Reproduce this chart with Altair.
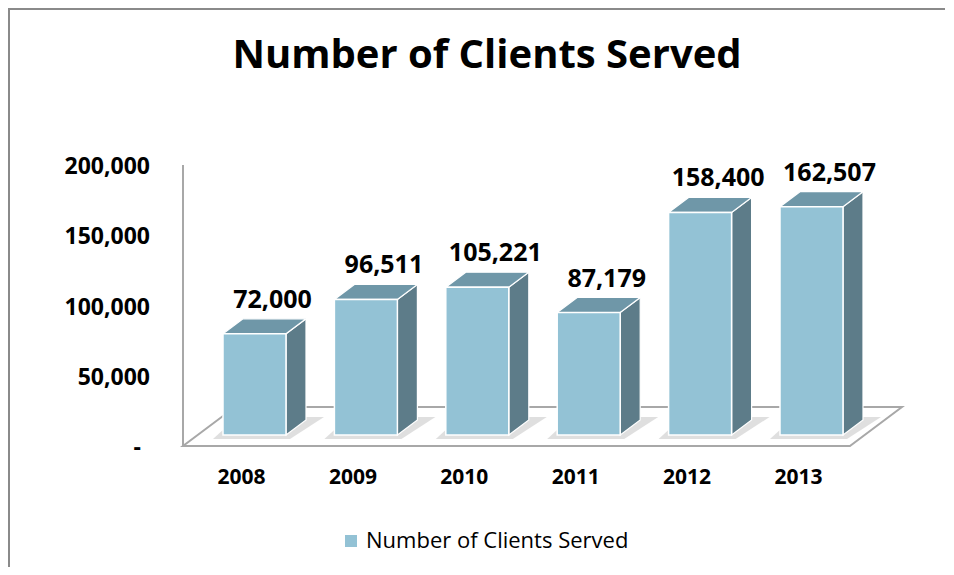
import altair as alt
import pandas as pd

# ---------------- data ----------------
years = ["2008", "2009", "2010", "2011", "2012", "2013"]
clients = [72000, 96511, 105221, 87179, 158400, 162507]
value_labels = ["72,000", "96,511", "105,221", "87,179", "158,400", "162,507"]
tick_values = [0, 50000, 100000, 150000, 200000]
tick_labels = ["-", "50,000", "100,000", "150,000", "200,000"]
chart_title = "Number of Clients Served"
legend_label = "Number of Clients Served"

# ---------------- geometry (scale units) ----------------
W, H = 938, 559
PX_X = 111.4            # px per category slot
PX_Y = 1.405 / 1000     # px per client
X_DOM = [-246.5 / PX_X, (W - 246.5) / PX_X]
Y_DOM = [-132 / PX_Y, (H - 132) / PX_Y]
HALF = 31.5 / PX_X      # half bar width
DX = 20 / PX_X          # depth in x
DY = 15 / PX_Y          # depth in y

FRONT = "#93C2D5"
TOP = "#6F97A8"
SIDE = "#5D7C89"
INK = "#000000"
FONT = "Open Sans"

xs = alt.Scale(domain=X_DOM, nice=False, zero=False)
ys = alt.Scale(domain=Y_DOM, nice=False, zero=False)

idx = list(range(len(years)))
bars = pd.DataFrame({"i": idx, "year": years, "v": clients, "label": value_labels})
bars["xl"] = bars["i"] - HALF
bars["xr"] = bars["i"] + HALF
bars["zero"] = 0.0

side_rows, top_rows, shadow_rows = [], [], []
for i, v in zip(idx, clients):
    side_rows.append({"i": i, "x": i + HALF, "lo": 0.0, "hi": v})
    side_rows.append({"i": i, "x": i + HALF + DX, "lo": DY, "hi": v + DY})
    top_rows.append({"i": i, "y": v, "a": i - HALF, "b": i + HALF})
    top_rows.append({"i": i, "y": v + DY, "a": i - HALF + DX, "b": i + HALF + DX})
    shadow_rows.append({"i": i, "y": -4 / PX_Y, "a": i - HALF - 10 / PX_X, "b": i + HALF + 4 / PX_X})
    shadow_rows.append({"i": i, "y": DY + 3 / PX_Y, "a": i - HALF + DX - 6 / PX_X, "b": i + HALF + DX + 18 / PX_X})
side = pd.DataFrame(side_rows)
top = pd.DataFrame(top_rows)
shadow = pd.DataFrame(shadow_rows)

floor = pd.DataFrame({
    "y": [-11 / PX_Y, 28 / PX_Y],
    "a": [-71.5 / PX_X, -19.5 / PX_X],
    "b": [5.345, 5.812],
})
axis_line = pd.DataFrame({"x": [-71.5 / PX_X], "y": [-11 / PX_Y], "y2": [270 / PX_Y]})

# outer chart frame (left and top edges only)
frame_left = pd.DataFrame({
    "x": [X_DOM[0], X_DOM[0] + 2 / PX_X],
    "lo": [Y_DOM[0], Y_DOM[0]],
    "hi": [Y_DOM[1], Y_DOM[1]],
})
frame_top = pd.DataFrame({
    "x": [X_DOM[0], X_DOM[1] - 1 / PX_X],
    "lo": [Y_DOM[1] - 2 / PX_Y, Y_DOM[1] - 2 / PX_Y],
    "hi": [Y_DOM[1], Y_DOM[1]],
})

ticks = pd.DataFrame({"v": tick_values, "label": tick_labels})
ticks["ly"] = ticks["v"] - 13 / PX_Y

yl = pd.DataFrame({"i": idx, "year": years})
yl["lx"] = yl["i"] - 13 / PX_X
yl["ly"] = -43 / PX_Y

# ---------------- layers ----------------
border_left = alt.Chart(frame_left).mark_area(orient="vertical", color="#8A8A8A").encode(
    x=alt.X("x:Q", scale=xs, axis=None),
    y=alt.Y("lo:Q", scale=ys, axis=None),
    y2="hi:Q",
)
border_top = alt.Chart(frame_top).mark_area(orient="vertical", color="#8A8A8A").encode(
    x=alt.X("x:Q", scale=xs, axis=None),
    y=alt.Y("lo:Q", scale=ys, axis=None),
    y2="hi:Q",
)

floor_layer = alt.Chart(floor).mark_area(
    orient="horizontal", fill="white", stroke="#A8A8A8", strokeWidth=2
).encode(
    y=alt.Y("y:Q", scale=ys, axis=None),
    x=alt.X("a:Q", scale=xs, axis=None),
    x2="b:Q",
)

axis_layer = alt.Chart(axis_line).mark_rule(color="#A8A8A8", strokeWidth=2).encode(
    x=alt.X("x:Q", scale=xs, axis=None),
    y=alt.Y("y:Q", scale=ys, axis=None),
    y2="y2:Q",
)

shadow_layer = alt.Chart(shadow).mark_area(
    orient="horizontal", color="#8C8C8C", opacity=0.28
).encode(
    y=alt.Y("y:Q", scale=ys, axis=None),
    x=alt.X("a:Q", scale=xs, axis=None),
    x2="b:Q",
    detail="i:N",
)

side_layer = alt.Chart(side).mark_area(
    orient="vertical", color=SIDE, stroke="white", strokeWidth=1.2
).encode(
    x=alt.X("x:Q", scale=xs, axis=None),
    y=alt.Y("lo:Q", scale=ys, axis=None),
    y2="hi:Q",
    detail="i:N",
)

top_layer = alt.Chart(top).mark_area(
    orient="horizontal", color=TOP, stroke="white", strokeWidth=1.2
).encode(
    y=alt.Y("y:Q", scale=ys, axis=None),
    x=alt.X("a:Q", scale=xs, axis=None),
    x2="b:Q",
    detail="i:N",
)

front_layer = alt.Chart(bars).mark_rect(
    color=FRONT, stroke="white", strokeWidth=1.5
).encode(
    x=alt.X("xl:Q", scale=xs, axis=None),
    x2="xr:Q",
    y=alt.Y("zero:Q", scale=ys, axis=None),
    y2="v:Q",
)

value_text = alt.Chart(bars).transform_calculate(
    lx=f"datum.i + {18 / PX_X}"
).mark_text(
    font=FONT, fontSize=25, fontWeight="bold", color=INK, dy=-34, baseline="middle"
).encode(
    x=alt.X("lx:Q", scale=xs, axis=None),
    y=alt.Y("v:Q", scale=ys, axis=None),
    text="label:N",
)

tick_text = alt.Chart(ticks).transform_filter("datum.v > 0").mark_text(
    font=FONT, fontSize=23, fontWeight="bold", color=INK, align="right", baseline="middle"
).encode(
    x=alt.value(150 - 8),
    y=alt.Y("ly:Q", scale=ys, axis=None),
    text="label:N",
)

zero_text = alt.Chart(ticks).transform_filter("datum.v == 0").mark_text(
    font=FONT, fontSize=23, fontWeight="bold", color=INK, align="right", baseline="middle"
).encode(
    x=alt.value(141 - 8),
    y=alt.Y("ly:Q", scale=ys, axis=None),
    text="label:N",
)

year_text = alt.Chart(yl).mark_text(
    font=FONT, fontSize=21, fontWeight="bold", color=INK, baseline="middle"
).encode(
    x=alt.X("lx:Q", scale=xs, axis=None),
    y=alt.Y("ly:Q", scale=ys, axis=None),
    text="year:N",
)

title_layer = alt.Chart(pd.DataFrame({"t": [chart_title]})).mark_text(
    font=FONT, fontSize=40, fontWeight="bold", color=INK, baseline="middle"
).encode(
    x=alt.value(487 - 8),
    y=alt.value(56 - 8),
    text="t:N",
)

legend_df = pd.DataFrame({"t": [legend_label]})
legend_sq = alt.Chart(legend_df).mark_square(size=144, color=FRONT, opacity=1).encode(
    x=alt.value(351 - 8),
    y=alt.value(541 - 8),
)
legend_tx = alt.Chart(legend_df).mark_text(
    font=FONT, fontSize=22, color=INK, align="left", baseline="middle"
).encode(
    x=alt.value(366 - 8),
    y=alt.value(541 - 8),
    text="t:N",
)

chart = alt.layer(
    border_left, border_top,
    floor_layer, axis_layer, shadow_layer,
    side_layer, top_layer, front_layer,
    value_text, tick_text, zero_text, year_text,
    title_layer, legend_sq, legend_tx,
).properties(
    width=W, height=H,
    autosize=alt.AutoSizeParams(type="none"),
    padding=0,
    background="white",
).configure_view(strokeWidth=0, stroke="transparent")

chart.save("out.html", embed_options={"renderer": "svg", "actions": False})
